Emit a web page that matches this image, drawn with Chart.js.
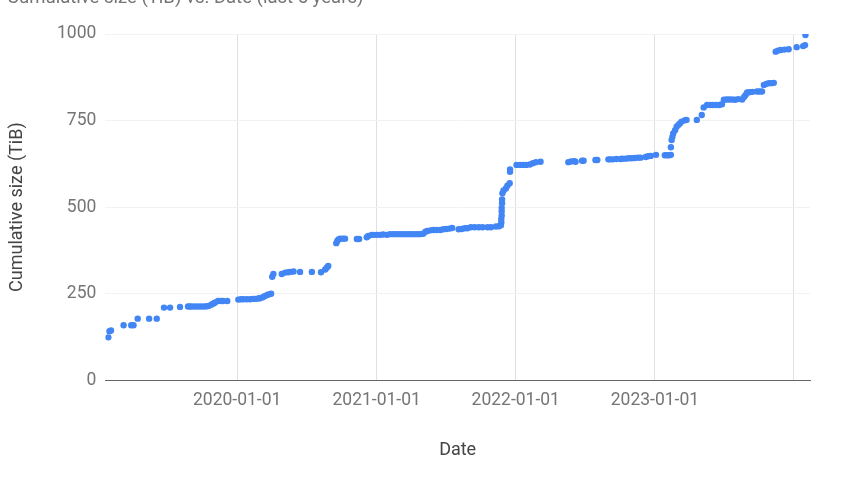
<!DOCTYPE html>
<html>
<head>
<meta charset="utf-8">
<title>Cumulative size (TiB) vs. Date</title>
<script src="https://cdn.jsdelivr.net/npm/chart.js"></script>
<style>
  html, body { margin: 0; padding: 0; background: #fff; overflow: hidden; }
  #wrap { position: relative; width: 845px; height: 478px; }
</style>
</head>
<body>
<div id="wrap"><canvas id="sizeChart"></canvas></div>
<script>
// values, one pair of arrays per year
const dates2019 = ['2019-01-28','2019-01-31','2019-02-04','2019-03-09','2019-03-29','2019-04-04','2019-04-15','2019-05-15','2019-06-04','2019-06-23','2019-07-09','2019-08-04','2019-08-25','2019-08-30','2019-09-05','2019-09-13','2019-09-21','2019-09-29','2019-10-07','2019-10-14','2019-10-19','2019-10-26','2019-10-31','2019-11-04','2019-11-12','2019-11-20','2019-11-25','2019-12-06'];
const sizes2019 = [124,142,144,159,159,159,178,178,178,210,210,212,213,213,213,213,213,213,213,214,215,219,222,225,229,229,229,229];

const dates2020 = ['2020-01-04','2020-01-11','2020-01-17','2020-01-26','2020-02-04','2020-02-12','2020-02-17','2020-02-25','2020-03-01','2020-03-08','2020-03-13','2020-03-19','2020-03-23','2020-03-30','2020-04-02','2020-04-05','2020-04-27','2020-05-06','2020-05-14','2020-05-19','2020-05-28','2020-06-14','2020-07-15','2020-08-08','2020-08-19','2020-08-23','2020-08-27','2020-09-17','2020-09-20','2020-09-23','2020-09-27','2020-10-04','2020-10-10','2020-11-10','2020-11-16','2020-12-06','2020-12-10','2020-12-19','2020-12-25'];
const sizes2020 = [233,234,234,234,234,235,235,236,237,240,243,246,248,250,299,307,307,311,312,313,314,313,313,312,320,325,330,396,403,407,409,409,409,408,408,413,417,420,420];

const dates2021 = ['2021-01-02','2021-01-10','2021-01-18','2021-01-28','2021-02-05','2021-02-13','2021-02-21','2021-03-01','2021-03-09','2021-03-17','2021-03-25','2021-04-01','2021-04-09','2021-04-17','2021-04-25','2021-05-03','2021-05-09','2021-05-14','2021-05-22','2021-05-30','2021-06-07','2021-06-17','2021-06-25','2021-07-03','2021-07-11','2021-07-18','2021-08-04','2021-08-12','2021-08-20','2021-08-27','2021-09-05','2021-09-15','2021-09-26','2021-10-06','2021-10-19','2021-10-28','2021-11-10','2021-11-18','2021-11-23','2021-11-24','2021-11-24','2021-11-25','2021-11-25','2021-11-25','2021-11-26','2021-11-26','2021-11-27','2021-11-30','2021-12-06','2021-12-10','2021-12-16','2021-12-17','2021-12-17'];
const sizes2021 = [420,420,421,420,422,422,422,422,422,422,422,422,422,422,422,423,429,431,433,434,434,434,436,437,438,440,436,437,439,439,442,442,442,442,442,442,444,445,448,456,466,476,488,498,511,522,540,548,554,562,569,602,609];

const dates2022 = ['2022-01-03','2022-01-12','2022-01-20','2022-01-28','2022-02-07','2022-02-15','2022-02-23','2022-03-07','2022-05-19','2022-05-26','2022-06-03','2022-06-07','2022-06-24','2022-06-28','2022-07-29','2022-08-03','2022-09-01','2022-09-06','2022-09-13','2022-09-22','2022-10-03','2022-10-08','2022-10-16','2022-10-24','2022-11-01','2022-11-09','2022-11-17','2022-11-24','2022-12-08','2022-12-14','2022-12-21'];
const sizes2022 = [622,622,622,622,623,627,630,631,630,632,633,631,634,634,636,636,638,638,638,639,639,640,640,641,641,642,643,643,645,647,648];

const dates2023 = ['2023-01-04','2023-01-27','2023-02-02','2023-02-08','2023-02-12','2023-02-12','2023-02-14','2023-02-16','2023-02-18','2023-02-23','2023-02-27','2023-03-04','2023-03-08','2023-03-12','2023-03-21','2023-03-25','2023-04-21','2023-05-04','2023-05-09','2023-05-18','2023-05-26','2023-06-03','2023-06-11','2023-06-19','2023-06-26','2023-07-01','2023-07-08','2023-07-15','2023-07-23','2023-07-31','2023-08-08','2023-08-18','2023-08-23','2023-08-27','2023-08-31','2023-09-06','2023-09-14','2023-09-26','2023-10-02','2023-10-09','2023-10-14','2023-10-21','2023-10-27','2023-11-03','2023-11-09','2023-11-14','2023-11-20','2023-11-27','2023-12-07','2023-12-18'];
const sizes2023 = [651,650,650,650,651,673,694,703,713,722,732,738,742,747,751,752,752,766,788,795,795,795,795,795,797,810,811,811,811,810,812,811,818,824,831,832,833,834,834,834,853,856,858,858,859,949,952,954,955,956];

const dates2024 = ['2024-01-08','2024-01-25','2024-01-30','2024-01-31'];
const sizes2024 = [962,965,968,997];

const yearTicks = ['2020-01-01','2021-01-01','2022-01-01','2023-01-01','2024-01-01'];
const xTickLabels = ['2020-01-01','2021-01-01','2022-01-01','2023-01-01'];
const yTicks = [0, 250, 500, 750, 1000];
const xRange = ['2019-01-20', '2024-02-12'];

const chartTitle = 'Cumulative size (TiB) vs. Date (last 5 years)';

const allDates = [].concat(dates2019, dates2020, dates2021, dates2022, dates2023, dates2024);
const allSizes = [].concat(sizes2019, sizes2020, sizes2021, sizes2022, sizes2023, sizes2024);
const points = allDates.map((d, i) => ({ x: Date.parse(d), y: allSizes[i] }));

const TICK_COLOR = '#757575';
const TITLE_COLOR = '#444444';
const FONT = 'Roboto';

// title sits half off the top edge in the reference, so draw it by hand
const clippedTitle = {
  id: 'clippedTitle',
  afterDraw(chart) {
    const ctx = chart.ctx;
    ctx.save();
    ctx.font = '18.5px ' + FONT;
    ctx.fillStyle = TICK_COLOR;
    ctx.textBaseline = 'alphabetic';
    ctx.textAlign = 'left';
    ctx.fillText(chartTitle, 7, 3);
    ctx.restore();
  }
};

new Chart(document.getElementById('sizeChart'), {
  type: 'scatter',
  data: {
    datasets: [{
      label: 'Cumulative size (TiB)',
      data: points,
      backgroundColor: '#4285F4',
      borderWidth: 0,
      pointRadius: 3.2,
      pointHoverRadius: 3.2
    }]
  },
  options: {
    responsive: true,
    maintainAspectRatio: false,
    animation: false,
    layout: { padding: { left: 0, right: 35, top: 34, bottom: 0 } },
    plugins: {
      legend: { display: false },
      tooltip: { enabled: false },
      title: { display: false }
    },
    scales: {
      x: {
        type: 'linear',
        min: Date.parse(xRange[0]),
        max: Date.parse(xRange[1]),
        afterBuildTicks: s => { s.ticks = yearTicks.map(d => ({ value: Date.parse(d) })); },
        afterFit: s => { s.height = 97.7; },
        ticks: {
          autoSkip: false,
          maxRotation: 0,
          padding: 10,
          color: TICK_COLOR,
          font: { family: FONT, size: 17.5 },
          callback: v => {
            const s = new Date(v).toISOString().slice(0, 10);
            return xTickLabels.includes(s) ? s : '';
          }
        },
        grid: { color: '#e0e0e0', drawTicks: false },
        border: { display: true, color: '#666666', width: 1 },
        title: {
          display: true,
          text: 'Date',
          color: TITLE_COLOR,
          font: { family: FONT, size: 18 },
          padding: { top: 0, bottom: 17 }
        }
      },
      y: {
        min: 0,
        max: 1000,
        afterBuildTicks: s => { s.ticks = yTicks.map(v => ({ value: v })); },
        afterFit: s => { s.width = 105.3; },
        ticks: {
          padding: 9,
          color: TICK_COLOR,
          font: { family: FONT, size: 17.5 },
          callback: v => String(v)
        },
        grid: { color: '#f2f2f2', drawTicks: false },
        border: { display: false },
        title: {
          display: true,
          text: 'Cumulative size (TiB)',
          color: TITLE_COLOR,
          font: { family: FONT, size: 18 },
          padding: { top: 7, bottom: 0 }
        }
      }
    }
  },
  plugins: [clippedTitle]
});
</script>
</body>
</html>
